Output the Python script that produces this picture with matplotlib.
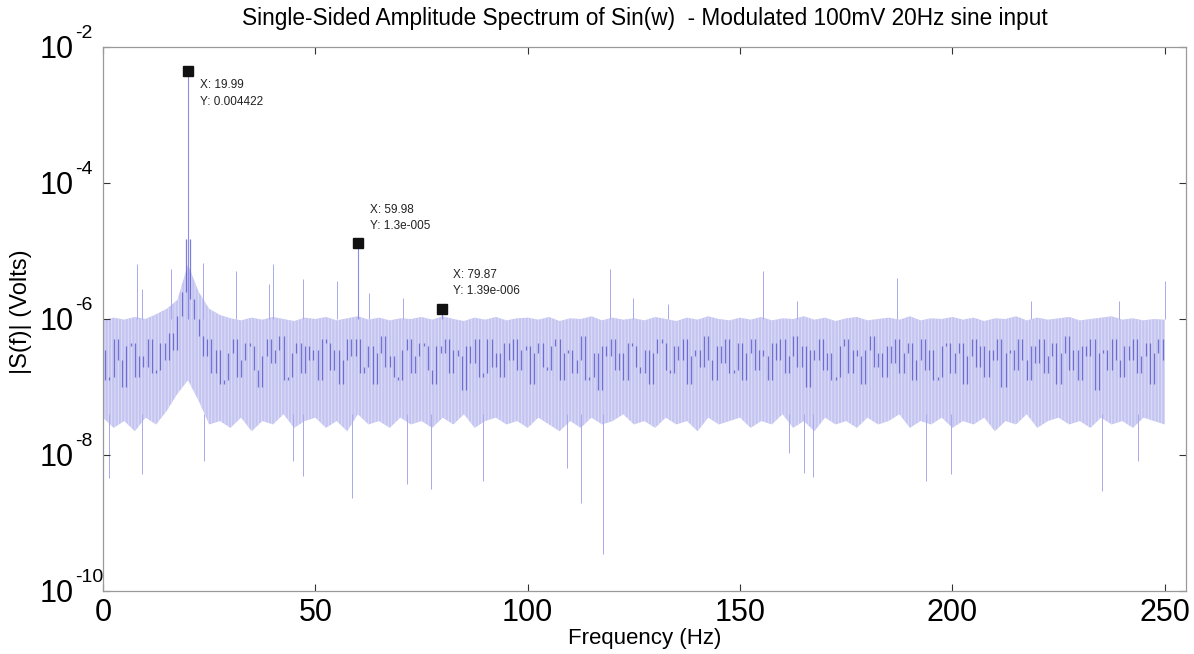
import numpy as np
import matplotlib
matplotlib.use("Agg")
import matplotlib.pyplot as plt
from matplotlib.transforms import offset_copy

plt.rcParams["font.family"] = ["Liberation Sans", "DejaVu Sans"]
plt.rcParams["hatch.linewidth"] = 0.7

# --- data (log10 Volts) ---
# noise trace, one value per Hz, 0..250 Hz
trace_log = [
    -6.45, -6.9, -6.85, -6.3, -6.6, -7.0, -6.4, -6.35, -6.85, -6.55,
    -6.7, -6.3, -6.8, -6.75, -6.35, -6.6, -6.2, -6.45, -5.95, -5.6,
    -4.82, -5.7, -6.0, -6.25, -6.55, -6.3, -6.8, -6.45, -6.95, -6.9,
    -6.5, -6.3, -6.85, -6.6, -6.35, -6.4, -6.75, -7.0, -6.55, -6.3,
    -6.65, -6.45, -6.25, -6.9, -6.85, -6.5, -6.35, -6.8, -6.4, -6.6,
    -6.45, -6.9, -6.3, -6.35, -6.75, -6.45, -6.95, -6.6, -6.3, -6.55,
    -6.3, -6.8, -6.7, -6.4, -6.95, -6.5, -6.25, -6.7, -6.55, -6.85,
    -6.9, -6.45, -6.3, -6.8, -6.55, -6.35, -6.4, -6.75, -6.95, -6.4,
    -6.5, -6.3, -6.8, -6.45, -6.55, -7.05, -6.4, -6.65, -6.3, -6.85,
    -6.8, -6.3, -6.7, -6.5, -6.85, -6.35, -6.6, -6.3, -6.75, -6.45,
    -6.4, -6.95, -6.5, -6.35, -6.7, -6.75, -6.4, -6.3, -6.9, -6.5,
    -6.45, -6.8, -6.6, -6.25, -6.9, -6.85, -6.5, -7.05, -6.4, -6.55,
    -6.3, -6.75, -6.5, -6.9, -6.35, -6.4, -6.7, -6.8, -6.45, -6.95,
    -6.5, -6.3, -6.35, -6.75, -6.8, -6.4, -6.6, -6.3, -6.95, -6.55,
    -6.45, -6.7, -6.25, -6.6, -6.9, -6.4, -6.65, -6.3, -6.8, -6.75,
    -6.35, -6.9, -6.5, -6.3, -6.75, -6.45, -6.55, -6.9, -6.35, -6.6,
    -6.3, -6.8, -6.55, -6.25, -6.7, -6.4, -7.0, -6.45, -6.6, -6.3,
    -6.75, -6.5, -6.9, -6.85, -6.4, -6.3, -6.8, -6.45, -6.55, -6.95,
    -6.45, -6.25, -6.7, -6.5, -6.85, -6.4, -6.65, -6.3, -6.8, -6.5,
    -6.35, -6.9, -6.6, -6.3, -6.75, -6.45, -6.9, -6.85, -6.4, -6.35,
    -6.8, -6.5, -6.35, -6.95, -6.55, -6.3, -6.7, -6.4, -6.85, -6.45,
    -6.6, -6.3, -7.0, -6.5, -6.45, -6.75, -6.3, -6.6, -6.9, -6.4,
    -6.65, -6.3, -6.8, -6.55, -6.35, -6.95, -6.5, -6.25, -6.75, -6.45,
    -6.9, -6.4, -6.55, -6.3, -7.05, -6.5, -6.45, -6.75, -6.3, -6.6,
    -6.85, -6.4, -6.6, -6.3, -6.8, -6.55, -6.35, -6.95, -6.5, -6.3,
    -6.6,
]
trace_f = np.arange(len(trace_log))

# light noise band edges, every 2.5 Hz
band_top = [
    -6.02, -5.98, -6.01, -5.97, -6.00, -5.93, -5.85, -5.72, -5.20, -5.60,
    -5.85, -5.94, -5.99, -6.02, -5.98, -6.01, -5.97, -6.00, -6.03, -5.98,
    -6.00, -5.97, -6.02, -5.99, -5.96, -6.01, -5.98, -6.02, -5.99, -6.00,
    -5.97, -6.01, -5.96, -6.00, -6.03, -5.98, -6.01, -5.97, -6.02, -5.99,
    -5.98, -6.01, -5.97, -6.03, -5.99, -6.00, -5.96, -6.02, -5.98, -6.01,
    -5.99, -6.02, -5.97, -6.00, -6.03, -5.98, -6.01, -5.96, -6.00, -6.02,
    -5.98, -6.01, -5.97, -6.02, -5.99, -6.00, -5.96, -6.01, -5.98, -6.03,
    -5.99, -5.97, -6.02, -6.00, -5.98, -6.01, -5.96, -6.02, -5.99, -6.00,
    -5.97, -6.01, -5.98, -6.03, -5.99, -6.00, -5.96, -6.02, -5.98, -6.01,
    -5.99, -5.97, -6.02, -6.00, -5.98, -5.96, -6.01, -5.99, -6.02, -6.00,
    -6.01,
]
band_bot = [
    -7.45, -7.60, -7.50, -7.65, -7.45, -7.55, -7.35, -7.10, -6.90, -7.20,
    -7.55, -7.50, -7.60, -7.45, -7.65, -7.50, -7.55, -7.40, -7.60, -7.50,
    -7.45, -7.60, -7.50, -7.65, -7.40, -7.55, -7.50, -7.60, -7.45, -7.55,
    -7.50, -7.60, -7.45, -7.55, -7.40, -7.60, -7.50, -7.45, -7.55, -7.50,
    -7.60, -7.45, -7.55, -7.65, -7.50, -7.60, -7.45, -7.55, -7.50, -7.40,
    -7.55, -7.50, -7.60, -7.45, -7.55, -7.50, -7.65, -7.45, -7.55, -7.50,
    -7.45, -7.60, -7.50, -7.55, -7.40, -7.60, -7.50, -7.65, -7.45, -7.55,
    -7.50, -7.60, -7.45, -7.55, -7.50, -7.40, -7.60, -7.50, -7.55, -7.45,
    -7.60, -7.50, -7.55, -7.45, -7.65, -7.50, -7.55, -7.40, -7.60, -7.50,
    -7.45, -7.55, -7.50, -7.60, -7.45, -7.55, -7.50, -7.60, -7.45, -7.50,
    -7.55,
]
band_f = np.linspace(0, 250, len(band_top))

# isolated hairlines above / below the band
up_f = [7.9, 9.2, 15.9, 23.6, 31.3, 39.1, 40.0, 47.2, 55.1, 62.7, 70.6,
        119.4, 124.8, 133.0, 155.4, 163.4, 187.0, 218.5, 239.3, 250.0]
up_log = [-5.19, -5.56, -5.26, -5.18, -5.29, -5.49, -5.19, -5.41, -5.44, -5.62,
          -5.69, -5.26, -5.69, -5.78, -5.29, -5.74, -5.40, -5.74, -5.74, -5.44]
down_f = [1.5, 9.1, 23.8, 44.7, 47.2, 58.6, 71.6, 77.2, 89.5, 109.3, 112.6,
          117.7, 161.5, 165.0, 167.2, 193.8, 199.7, 235.2, 243.7]
down_log = [-8.34, -8.28, -8.09, -8.09, -8.31, -8.63, -8.43, -8.50, -8.38, -8.19,
            -8.70, -9.46, -7.97, -8.26, -8.32, -8.38, -8.28, -8.53, -8.09]

# data tips
peak_f = [19.99, 59.98, 79.87]
peak_v = [0.004422, 1.3e-5, 1.39e-6]
peak_labels = ["X: 19.99\nY: 0.004422", "X: 59.98\nY: 1.3e-005", "X: 79.87\nY: 1.39e-006"]
peak_offsets = [((9, -6), "top"), ((9, 8), "bottom"), ((8, 9), "bottom")]

y_exps = [-10, -8, -6, -4, -2]
x_ticks = [0, 50, 100, 150, 200, 250]

BAND = "#c4c4f1"
STRIPE = "#e0e0f8"
HAIR = "#a9a9ec"
DARK = "#5252c8"

fig = plt.figure(figsize=(11.94, 6.54), dpi=100, facecolor="white")
ax = fig.add_axes([0.0863, 0.0963, 0.907, 0.8318])
ax.set_yscale("log")

ax.fill_between(band_f, 10.0 ** np.array(band_top), 10.0 ** np.array(band_bot),
                facecolor=BAND, edgecolor=STRIPE, hatch="|||||", lw=0, zorder=1)
ax.vlines(up_f, 1e-6, 10.0 ** np.array(up_log), color=HAIR, lw=0.7, zorder=1)
ax.vlines(down_f, 10.0 ** -7.4, 10.0 ** np.array(down_log), color=HAIR, lw=0.7, zorder=1)
ax.vlines(peak_f, 1e-6, peak_v, color="#8c8ce8", lw=0.8, zorder=2)

# dark strokes: each bin-to-bin swing of the trace drawn as a vertical stroke
tv = 10.0 ** np.array(trace_log)
ax.vlines(trace_f[:-1] + 0.5, np.minimum(tv[:-1], tv[1:]), np.maximum(tv[:-1], tv[1:]),
          color=DARK, lw=0.9, alpha=0.75, zorder=2)

ax.plot(peak_f, peak_v, "s", color="#111111", ms=7.5, zorder=4)
for f, v, lbl, (off, va) in zip(peak_f, peak_v, peak_labels, peak_offsets):
    ax.annotate(lbl, (f, v), xytext=off, textcoords="offset points",
                ha="left", va=va, fontsize=8.5, color="#222222", linespacing=1.45)

ax.set_xlim(0, 255)
ax.set_ylim(1e-10, 1e-2)
ax.set_xticks(x_ticks)
ax.set_yticks([10.0 ** e for e in y_exps])
ax.set_yticklabels([])
ax.minorticks_off()
ax.tick_params(direction="in", length=5, width=0.8, color="#333333",
               top=True, right=True, labelsize=22)
ax.tick_params(axis="x", pad=5)
for s in ax.spines.values():
    s.set_color("#9a9a9a")
    s.set_linewidth(0.9)

# MATLAB-like "10" with a small raised exponent
ytr = ax.get_yaxis_transform()
for e in y_exps:
    base_tr = offset_copy(ytr, fig=fig, x=0, y=-3, units="dots")
    exp_tr = offset_copy(ytr, fig=fig, x=0, y=14, units="dots")
    ax.text(-0.0582, 10.0 ** e, "10", transform=base_tr, ha="left", va="center",
            fontsize=22, clip_on=False)
    ax.text(-0.0258, 10.0 ** e, f"-{abs(e)}", transform=exp_tr, ha="left", va="center",
            fontsize=14, clip_on=False)

ax.set_title("Single-Sided Amplitude Spectrum of Sin(w)  - Modulated 100mV 20Hz sine input",
             fontsize=16.3, pad=16)
ax.set_xlabel("Frequency (Hz)", fontsize=16)
ax.set_ylabel("|S(f)| (Volts)", fontsize=17)
ax.xaxis.set_label_coords(0.5, -0.068)
ax.yaxis.set_label_coords(-0.0656, 0.513)

fig.savefig("out.png", dpi=100)
